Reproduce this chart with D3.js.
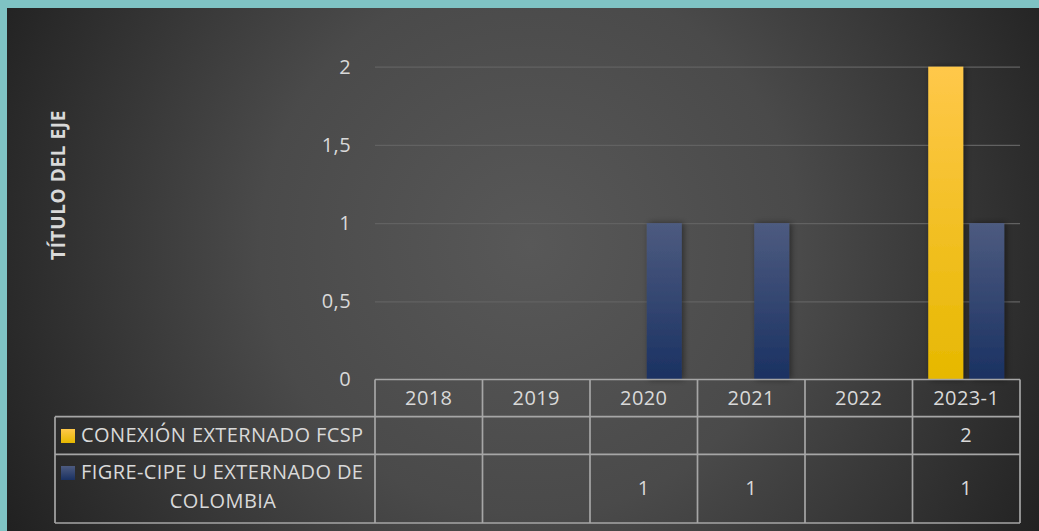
<!DOCTYPE html>
<html>
<head>
<meta charset="utf-8">
<script src="https://cdn.jsdelivr.net/npm/d3@7"></script>
<style>
  html, body { margin: 0; padding: 0; background: #7fc3c4; }
  svg { display: block; }
</style>
</head>
<body>
<script>
// chart values
var categories = ["2018", "2019", "2020", "2021", "2022", "2023-1"];
var seriesNames = ["CONEXIÓN EXTERNADO FCSP", "FIGRE-CIPE U EXTERNADO DE COLOMBIA"];
var conexion = [null, null, null, null, null, 2];
var figre = [null, null, 1, 1, null, 1];
var yTicks = [0, 0.5, 1, 1.5, 2];

function draw() {
    var w = 1039;
    var h = 531;
    var font = "'Open Sans', sans-serif";
    var textColor = "#d9d9d9";
    var lineColor = "#a6a6a6";

    var svg = d3.select("body")
        .append("svg")
        .attr("width", w)
        .attr("height", h);

    var defs = svg.append("defs");
    // background radial gradient
    var bg = defs.append("radialGradient")
        .attr("id", "bg")
        .attr("gradientUnits", "userSpaceOnUse")
        .attr("cx", 530).attr("cy", 245).attr("r", 600);
    bg.append("stop").attr("offset", "0").attr("stop-color", "#585858");
    bg.append("stop").attr("offset", "0.45").attr("stop-color", "#4a4a4a");
    bg.append("stop").attr("offset", "1").attr("stop-color", "#202020");

    // bar gradients
    var gradColors = [["#ffc84a", "#e6b800"], ["#4d5b80", "#1a3162"]];
    gradColors.forEach(function(c, i) {
        var g = defs.append("linearGradient")
            .attr("id", "bar" + i)
            .attr("x1", 0).attr("y1", 0).attr("x2", 0).attr("y2", 1);
        g.append("stop").attr("offset", "0").attr("stop-color", c[0]);
        g.append("stop").attr("offset", "1").attr("stop-color", c[1]);
    });
    var shadow = defs.append("filter").attr("id", "shadow")
        .attr("x", "-50%").attr("y", "-10%").attr("width", "200%").attr("height", "120%");
    shadow.append("feDropShadow")
        .attr("dx", 2).attr("dy", 0).attr("stdDeviation", 3)
        .attr("flood-color", "#000").attr("flood-opacity", 0.45);

    // chart area (teal border on top/left)
    svg.append("rect")
        .attr("x", 7).attr("y", 8)
        .attr("width", w - 7).attr("height", h - 8)
        .attr("fill", "url(#bg)");

    var left = 375, right = 1020;
    var x0 = d3.scaleBand()
        .domain(categories)
        .range([left, right]);
    var x1 = d3.scaleBand()
        .domain(d3.range(seriesNames.length))
        .range([0, x0.bandwidth()])
        .paddingInner(0.146)
        .paddingOuter(0.384);
    var y = d3.scaleLinear()
        .domain([0, 2])
        .range([379.5, 66.7]);

    // y axis with gridlines
    var yAxis = d3.axisLeft(y)
        .tickValues(yTicks)
        .tickSize(-(right - left))
        .tickPadding(24)
        .tickFormat(function(d) { return String(d).replace(".", ","); });
    var gy = svg.append("g")
        .attr("transform", "translate(" + left + ",0)")
        .call(yAxis);
    gy.select(".domain").remove();
    gy.selectAll(".tick line")
        .attr("stroke", "#626262")
        .attr("stroke-width", 1.2)
        .filter(function(d) { return d === 0; }).remove();
    gy.selectAll(".tick text")
        .attr("fill", textColor)
        .style("font-family", font)
        .style("font-size", "20px")
        .style("letter-spacing", "0.4px");

    // axis title
    svg.append("text")
        .attr("transform", "translate(65,185) rotate(-90)")
        .attr("text-anchor", "middle")
        .attr("fill", textColor)
        .style("font-family", font)
        .style("font-weight", "bold")
        .style("font-size", "19px")
        .style("letter-spacing", "0.6px")
        .text("TÍTULO DEL EJE");

    // bars
    var seriesValues = [conexion, figre];
    seriesValues.forEach(function(vals, si) {
        svg.append("g")
            .selectAll("rect")
            .data(vals.map(function(v, i) { return {cat: categories[i], v: v}; })
                .filter(function(d) { return d.v != null; }))
            .enter()
            .append("rect")
            .attr("x", function(d) { return x0(d.cat) + x1(si); })
            .attr("width", x1.bandwidth())
            .attr("y", function(d) { return y(d.v); })
            .attr("height", function(d) { return y(0) - y(d.v); })
            .attr("fill", "url(#bar" + si + ")")
            .attr("filter", "url(#shadow)");
    });

    // data table
    var rowTop = [379.5, 416.7, 454.3];
    var rowBottom = 523;
    var legendLeft = 55;
    var t = svg.append("g")
        .attr("fill", "none")
        .attr("stroke", lineColor)
        .attr("stroke-width", 1.7);
    // horizontal lines
    t.append("line").attr("x1", left).attr("x2", right).attr("y1", rowTop[0]).attr("y2", rowTop[0]);
    [rowTop[1], rowTop[2], rowBottom].forEach(function(yy) {
        t.append("line").attr("x1", legendLeft).attr("x2", right).attr("y1", yy).attr("y2", yy);
    });
    // vertical lines
    t.append("line").attr("x1", legendLeft).attr("x2", legendLeft).attr("y1", rowTop[1]).attr("y2", rowBottom);
    categories.concat([null]).forEach(function(c) {
        var xx = c == null ? right : x0(c);
        t.append("line").attr("x1", xx).attr("x2", xx).attr("y1", rowTop[0]).attr("y2", rowBottom);
    });

    function cellText(xx, yy, txt, anchor) {
        return svg.append("text")
            .attr("x", xx).attr("y", yy)
            .attr("text-anchor", anchor || "middle")
            .attr("fill", textColor)
            .style("font-family", font)
            .style("font-size", "20px")
            .style("letter-spacing", "0.4px")
            .text(txt);
    }

    // header row
    categories.forEach(function(c) {
        cellText(x0(c) + x0.bandwidth() / 2, 405, c);
    });
    // values
    var rowBase = [442, 495];
    seriesValues.forEach(function(vals, si) {
        vals.forEach(function(v, i) {
            if (v != null) cellText(x0(categories[i]) + x0.bandwidth() / 2, rowBase[si], v);
        });
    });

    // legend keys
    var keyY = [429, 466];
    seriesValues.forEach(function(vals, si) {
        svg.append("rect")
            .attr("x", 61).attr("y", keyY[si])
            .attr("width", 14).attr("height", 14)
            .attr("fill", "url(#bar" + si + ")");
    });
    cellText(81, 442, "CONEXIÓN EXTERNADO FCSP", "start");
    cellText(81, 479, "FIGRE-CIPE U EXTERNADO DE", "start");
    cellText(223, 508, "COLOMBIA", "middle");
}

window.onload = draw;
</script>
</body>
</html>
